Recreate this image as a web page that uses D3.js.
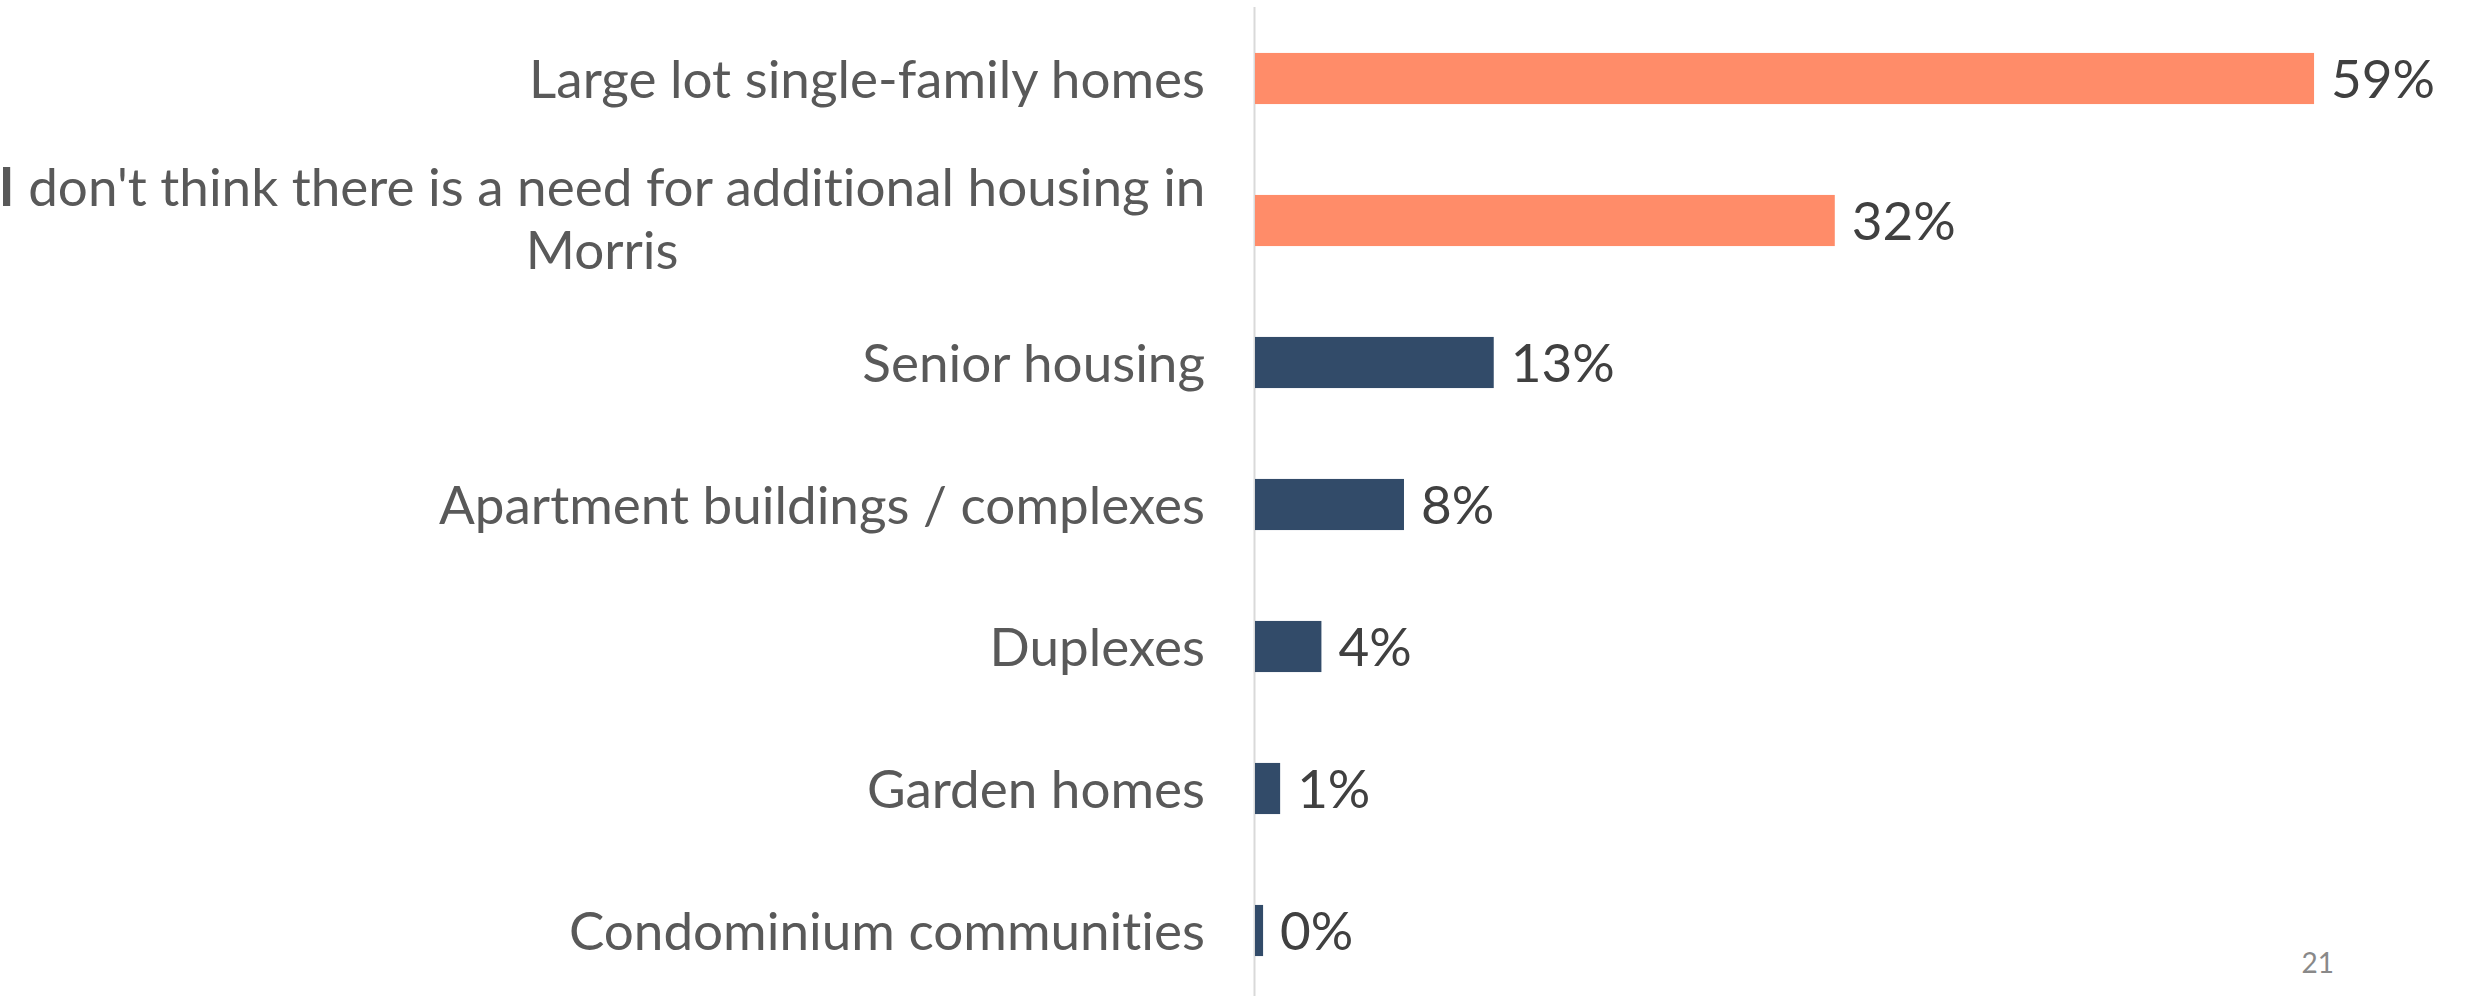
<!DOCTYPE html>
<html>
<head>
<meta charset="utf-8">
<script src="https://cdn.jsdelivr.net/npm/d3@7"></script>
<style>
  body { margin: 0; background: #fff; }
  svg { display: block; }
  text { font-variant-ligatures: none; }
  .cat { font-family: Lato, "Open Sans", sans-serif; fill: #595959; }
  .val { font-family: Lato, "Open Sans", sans-serif; fill: #404040; }
  .pagenum { font-family: Lato, "Open Sans", sans-serif; fill: #898989; }
</style>
</head>
<body>
<div id="vis"></div>
<script>
// values (bar lengths), labels are the rounded ones shown
var categories = [
    "Large lot single-family homes",
    "I don't think there is a need for additional housing in Morris",
    "Senior housing",
    "Apartment buildings / complexes",
    "Duplexes",
    "Garden homes",
    "Condominium communities"
];
var values = [59, 32.3, 13.3, 8.3, 3.7, 1.4, 0.45];
var labels = ["59%", "32%", "13%", "8%", "4%", "1%", "0%"];
var highlight = [true, true, false, false, false, false, false];

var width = 2466
var height = 996
var axisX = 1254
var fontSize = 53

var svg = d3.select('#vis').append('svg')
    .attr('width', width)
    .attr('height', height)

var x = d3.scaleLinear()
    .domain([0, 100])
    .range([axisX, axisX + 1795])

var y = d3.scaleBand()
    .domain(categories)
    .range([7.5, 1001.5])
    .paddingInner(0.64)
    .paddingOuter(0.32)

var rows = categories.map(function(c, i) {
    return { cat: c, value: values[i], label: labels[i], hi: highlight[i] };
});

// axis line
svg.append('line')
    .attr('x1', axisX + 0.5)
    .attr('x2', axisX + 0.5)
    .attr('y1', 7)
    .attr('y2', height)
    .attr('stroke', '#d9d9d9')
    .attr('stroke-width', 2)

svg.selectAll('.bar')
    .data(rows)
    .enter()
    .append('rect')
    .attr('class', 'bar')
    .attr('x', x(0) + 1)
    .attr('y', function(d) { return y(d.cat); })
    .attr('width', function(d) { return x(d.value) - x(0); })
    .attr('height', y.bandwidth())
    .attr('fill', function(d) { return d.hi ? '#ff8c69' : '#324b69'; })

svg.selectAll('.val')
    .data(rows)
    .enter()
    .append('text')
    .attr('class', 'val')
    .attr('x', function(d) { return x(d.value) + 18; })
    .attr('y', function(d) { return y(d.cat) + y.bandwidth() / 2 + fontSize * 0.36; })
    .style('font-size', fontSize + 'px')
    .text(function(d) { return d.label; })

// category labels, wrapped like the office chart does
var labelRight = 1205
var maxWidth = 1215
var lineHeight = 63

var cat = svg.selectAll('.cat')
    .data(rows)
    .enter()
    .append('text')
    .attr('class', 'cat')
    .style('font-size', fontSize + 'px')
    .each(function(d) {
        var el = d3.select(this)
        var words = d.cat.split(' ')
        var lines = []
        var line = []
        var probe = el.append('tspan')
        words.forEach(function(w) {
            line.push(w)
            probe.text(line.join(' '))
            if (probe.node().getComputedTextLength() > maxWidth && line.length > 1) {
                line.pop()
                lines.push(line.join(' '))
                line = [w]
            }
        })
        lines.push(line.join(' '))
        probe.remove()

        var cy = y(d.cat) + y.bandwidth() / 2
        if (lines.length === 1) {
            el.attr('text-anchor', 'end')
                .attr('x', labelRight)
                .attr('y', cy + fontSize * 0.36)
                .text(lines[0])
        } else {
            // centre the lines on the widest one, which sits flush right
            var widths = lines.map(function(l) {
                var t = el.append('tspan').text(l)
                var wd = t.node().getComputedTextLength()
                t.remove()
                return wd
            })
            var centre = labelRight - d3.max(widths) / 2
            var top = cy + fontSize * 0.36 - (lines.length - 1) * lineHeight / 2 - 2
            el.attr('text-anchor', 'middle')
            lines.forEach(function(l, i) {
                var ts = el.append('tspan')
                    .attr('x', centre)
                    .attr('y', top + i * lineHeight)
                // the source slide has a heavier leading "I"
                if (i === 0 && l.indexOf('I ') === 0) {
                    ts.append('tspan').style('font-weight', 700).text('I')
                    ts.append('tspan').text(l.slice(1))
                } else {
                    ts.text(l)
                }
            })
        }
    })

svg.append('text')
    .attr('class', 'pagenum')
    .attr('x', 2334)
    .attr('y', 973)
    .attr('text-anchor', 'end')
    .style('font-size', '28px')
    .text('21')
</script>
</body>
</html>
